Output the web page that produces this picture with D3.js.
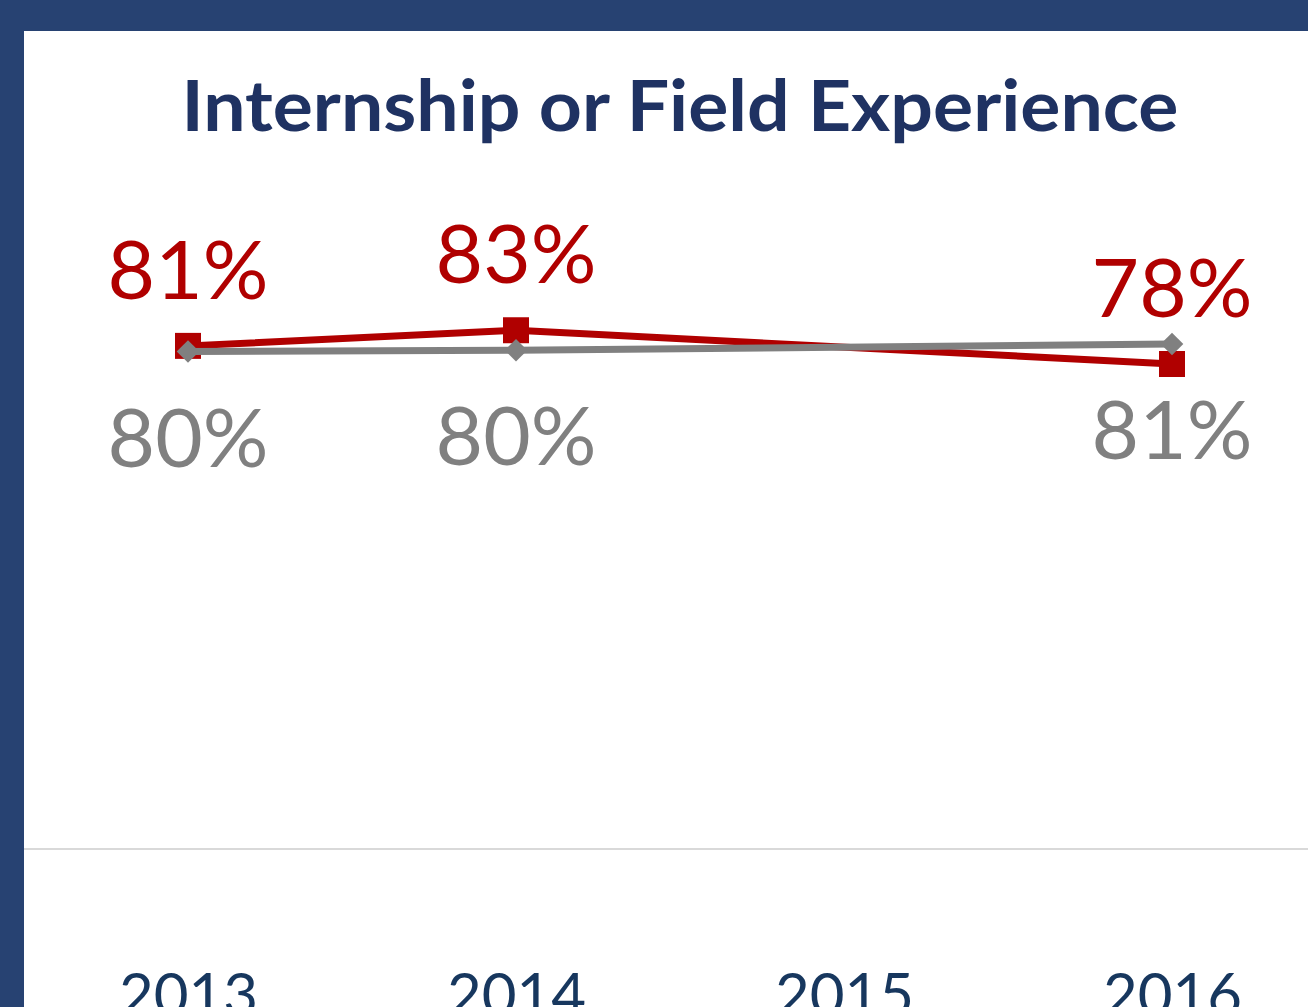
<!DOCTYPE html>
<html>
<head>
<meta charset="utf-8">
<script src="https://cdn.jsdelivr.net/npm/d3@7"></script>
<style>
body{margin:0;background:#274272;overflow:hidden}
text{font-family:Lato,"Open Sans",sans-serif}
</style>
</head>
<body>
<script>
var years = ["2013","2014","2015","2016"]
var redValues = [80.5, 83.0, null, 77.6]
var greyValues = [79.6, 79.8, null, 80.8]
var title = "Internship or Field Experience"

var width = 1308, height = 1007
var svg = d3.select("body").append("svg")
	.attr("width", width)
	.attr("height", height)

// white panel inside the navy frame
svg.append("rect")
	.attr("x", 24).attr("y", 31)
	.attr("width", width - 24).attr("height", height - 31)
	.attr("fill", "#ffffff")

svg.append("text")
	.attr("x", 680).attr("y", 131)
	.attr("text-anchor", "middle")
	.attr("font-weight", 700)
	.attr("font-size", 70)
	.attr("fill", "#1f3262")
	.attr("textLength", 997)
	.attr("lengthAdjust", "spacingAndGlyphs")
	.text(title)

var scaleX = d3.scalePoint().domain(years).range([24, 1336]).padding(0.5)
var scaleY = d3.scaleLinear().domain([0, 100]).range([849, 224])

var xAxis = d3.axisBottom(scaleX).tickSize(0).tickPadding(0)
var gx = svg.append("g")
	.attr("class", "x axis")
	.attr("transform", "translate(0," + scaleY(0) + ")")
	.call(xAxis)
gx.select(".domain").attr("stroke", "#d9d9d9").attr("stroke-width", 2)
	.attr("d", "M24,0H" + width)
// year labels run off the bottom edge, as in the original
gx.selectAll("text")
	.attr("y", 167).attr("dy", 0)
	.attr("font-size", 60)
	.attr("fill", "#17375e")
	.style("font-family", "Lato, 'Open Sans', sans-serif")

function series(values){
	return years.map(function(y, i){ return {year: y, v: values[i]} })
		.filter(function(d){ return d.v != null })
}

var line = d3.line()
	.x(function(d){ return scaleX(d.year) })
	.y(function(d){ return scaleY(d.v) })

var redData = series(redValues)
var greyData = series(greyValues)

// red series
svg.append("path").datum(redData)
	.attr("d", line).attr("fill", "none")
	.attr("stroke", "#b00000").attr("stroke-width", 7)
svg.append("g").selectAll("path")
	.data(redData).enter().append("path")
	.attr("d", d3.symbol().type(d3.symbolSquare).size(26 * 26))
	.attr("transform", function(d){ return "translate(" + scaleX(d.year) + "," + scaleY(d.v) + ")" })
	.attr("fill", "#b00000")

// grey series
svg.append("path").datum(greyData)
	.attr("d", line).attr("fill", "none")
	.attr("stroke", "#808080").attr("stroke-width", 7)
svg.append("g").selectAll("path")
	.data(greyData).enter().append("path")
	.attr("d", d3.symbol().type(d3.symbolSquare).size(16 * 16))
	.attr("transform", function(d){ return "translate(" + scaleX(d.year) + "," + scaleY(d.v) + ") rotate(45)" })
	.attr("fill", "#808080")

// data labels
svg.append("g").selectAll("text")
	.data(redData).enter().append("text")
	.attr("x", function(d){ return scaleX(d.year) })
	.attr("y", function(d){ return scaleY(d.v) - 47 })
	.attr("text-anchor", "middle")
	.attr("font-size", 82)
	.attr("fill", "#b00000")
	.text(function(d){ return Math.round(d.v) + "%" })

svg.append("g").selectAll("text")
	.data(greyData).enter().append("text")
	.attr("x", function(d){ return scaleX(d.year) })
	.attr("y", function(d){ return scaleY(d.v) + 115 })
	.attr("text-anchor", "middle")
	.attr("font-size", 82)
	.attr("fill", "#808080")
	.text(function(d){ return Math.round(d.v) + "%" })
</script>
</body>
</html>
